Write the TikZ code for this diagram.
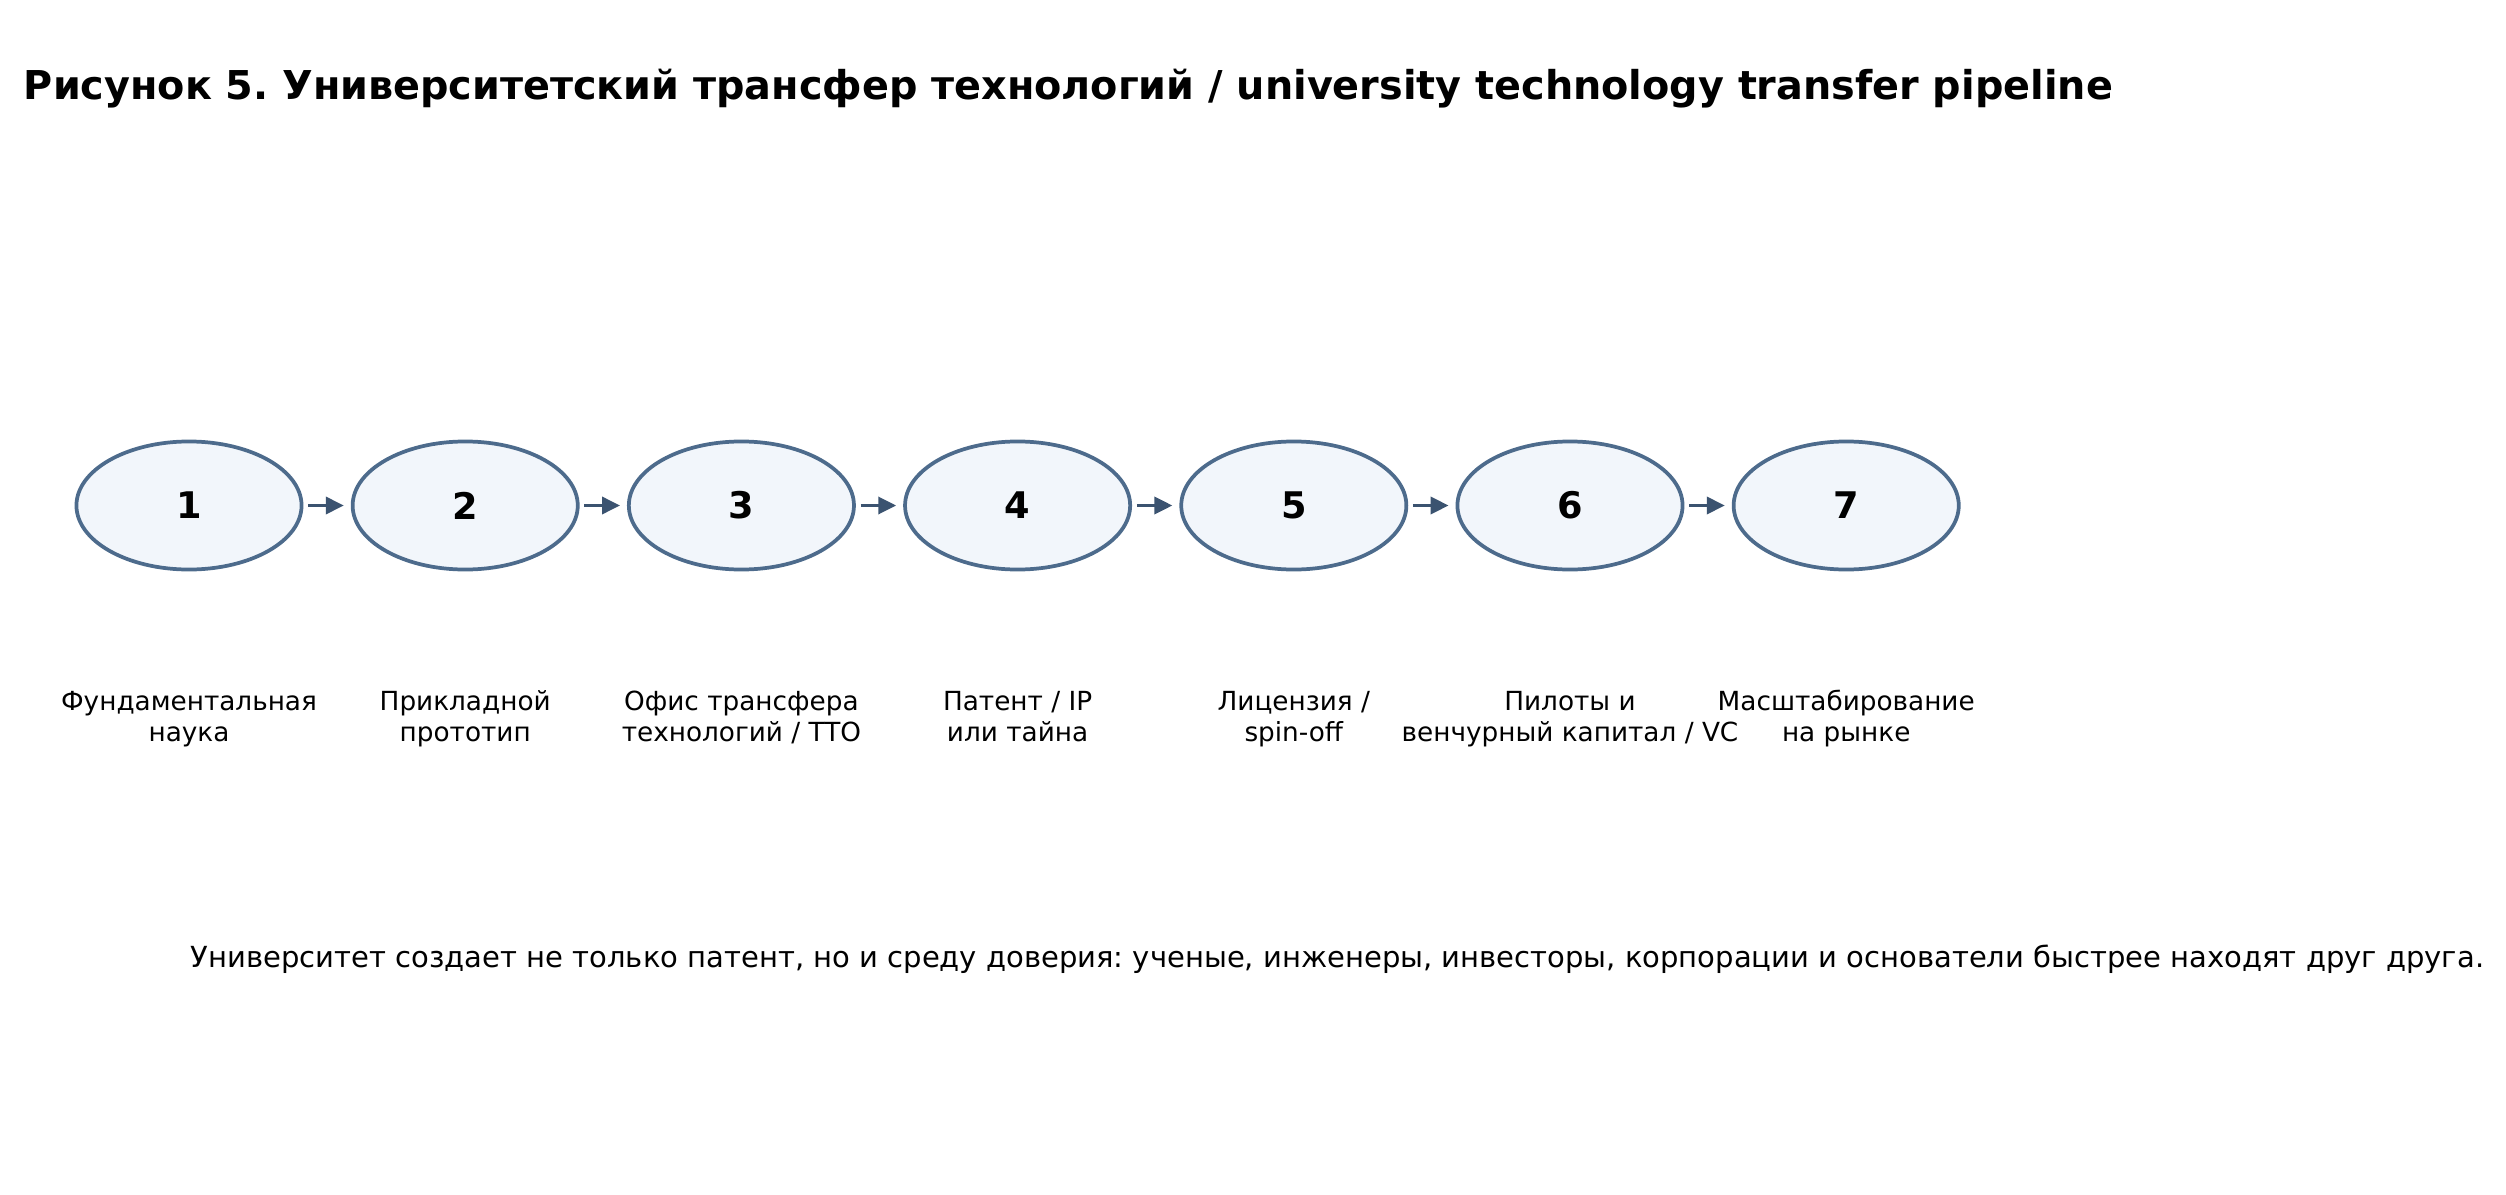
\documentclass[tikz,border=0pt]{standalone}
\usepackage{fontspec}
\setmainfont{DejaVu Sans}
\frenchspacing
\usetikzlibrary{shapes.geometric,arrows.meta}
\definecolor{stageline}{HTML}{4D6B8C}
\definecolor{stagefill}{HTML}{F2F6FB}
\definecolor{flowarrow}{HTML}{3B5370}
\tikzset{
  stage/.style={ellipse, draw=stageline, fill=stagefill, line width=2.7pt,
    minimum width=2.25in, minimum height=1.28in, inner sep=0pt,
    font=\fontsize{26.5}{30}\selectfont\bfseries},
  stagelabel/.style={anchor=base, align=center, font=\fontsize{19}{22}\selectfont},
  flow/.style={draw=flowarrow, line width=2.7pt, shorten <=3.4pt, shorten >=5pt,
    -{Triangle[length=13pt,width=12.2pt]}}
}
\begin{document}
\begin{tikzpicture}[x=0.01in,y=-0.01in]
  \useasboundingbox (0,0) rectangle (2506,1195);
  \node[anchor=base west, font=\fontsize{28.7}{34}\selectfont\bfseries] (title) at (19,100)
    {Рисунок 5. Университетский трансфер технологий / university technology transfer pipeline};
  % stages
  \node[stage] (s1) at (189,505.5) {1};
  \node[stage] (s2) at (465.2,505.5) {2};
  \node[stage] (s3) at (741.4,505.5) {3};
  \node[stage] (s4) at (1017.6,505.5) {4};
  \node[stage] (s5) at (1293.8,505.5) {5};
  \node[stage] (s6) at (1570,505.5) {6};
  \node[stage] (s7) at (1846.2,505.5) {7};
  \draw[flow] (s1) -- (s2);
  \draw[flow] (s2) -- (s3);
  \draw[flow] (s3) -- (s4);
  \draw[flow] (s4) -- (s5);
  \draw[flow] (s5) -- (s6);
  \draw[flow] (s6) -- (s7);
  % labels under the stages
  \node[stagelabel] (l1) at (189,741) {Фундаментальная\\наука};
  \node[stagelabel] (l2) at (465.2,741) {Прикладной\\прототип};
  \node[stagelabel] (l3) at (741.4,741) {Офис трансфера\\технологий / TTO};
  \node[stagelabel] (l4) at (1017.6,741) {Патент / IP\\или тайна};
  \node[stagelabel] (l5) at (1293.8,741) {Лицензия /\\spin-off};
  \node[stagelabel] (l6) at (1570,741) {Пилоты и\\венчурный капитал / VC};
  \node[stagelabel] (l7) at (1846.2,741) {Масштабирование\\на рынке};
  \node[anchor=base west, font=\fontsize{20.97}{25}\selectfont] (note) at (186,967)
    {Университет создает не только патент, но и среду доверия: ученые, инженеры, инвесторы, корпорации и основатели быстрее находят друг друга.};
\end{tikzpicture}
\end{document}
